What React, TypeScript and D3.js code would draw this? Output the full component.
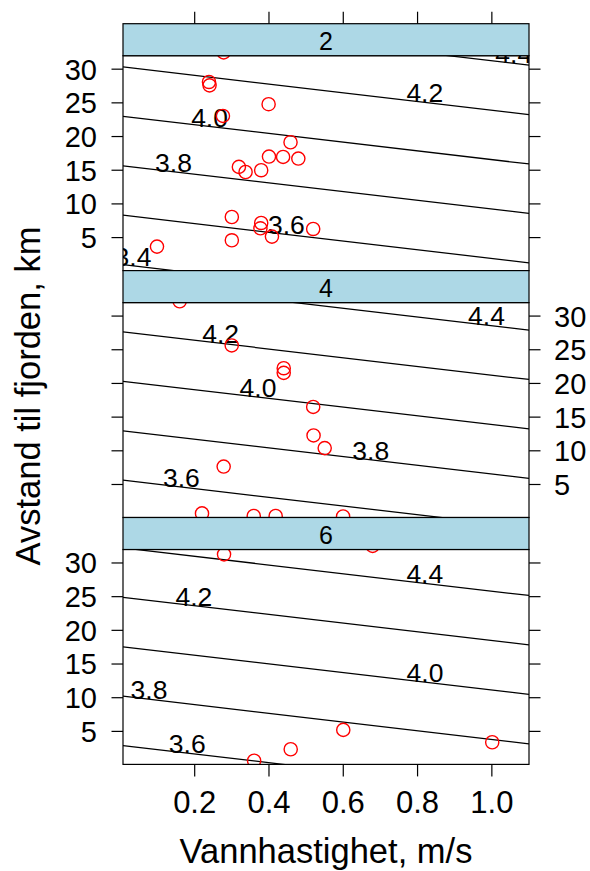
import React from "react";
import * as d3 from "d3";

// ---- data ----
const panelNames = ["2", "4", "6"];
const panelIntercepts = [3.372, 3.445, 3.52];
const slopeSpeed = 0.1762;
const slopeDistance = 0.02726;
const contourLevels = [3.4, 3.6, 3.8, 4.0, 4.2, 4.4];
const contourLabelNames = ["3.4", "3.6", "3.8", "4.0", "4.2", "4.4"];
// x-position (speed) of each contour label, per panel (null = no label)
const labelSpeed: (number | null)[][] = [
  [0.034, 0.447, 0.143, 0.24, 0.8195, 1.059],
  [null, 0.164, 0.674, 0.3705, 0.27, 0.9857],
  [null, 0.18, 0.077, 0.82, 0.198, 0.8195],
];

const speed2 = [0.278, 0.2385, 0.24, 0.399, 0.276, 0.458, 0.4, 0.438, 0.479, 0.319, 0.337, 0.379, 0.3, 0.379, 0.377, 0.408, 0.519, 0.3, 0.0985];
const dist2 = [32.5, 28.1, 27.6, 24.8, 23.06, 19.15, 17.03, 16.97, 16.73, 15.49, 14.74, 15.0, 8.06, 7.17, 6.38, 5.15, 6.28, 4.6, 3.66];
const speed4 = [0.1596, 0.2997, 0.4397, 0.4397, 0.519, 0.52, 0.55, 0.278, 0.2197, 0.359, 0.418, 0.5995];
const dist4 = [32.19, 25.64, 22.26, 21.57, 16.51, 12.28, 10.4, 7.66, 0.71, 0.32, 0.32, 0.25];
const speed6 = [0.279, 0.679, 0.6, 1.001, 0.4585, 0.36];
const dist6 = [31.28, 32.53, 5.22, 3.39, 2.35, 0.65];

const panelSpeeds = [speed2, speed4, speed6];
const panelDists = [dist2, dist4, dist6];

const xTicks = [0.2, 0.4, 0.6, 0.8, 1.0];
const yTicks = [5, 10, 15, 20, 25, 30];
const xDomain = [0.007, 1.1];
const yDomain = [0.1, 32.0];

const xTitle = "Vannhastighet, m/s";
const yTitle = "Avstand til fjorden, km";

const FONT = "'Liberation Sans', Arial, Helvetica, sans-serif";

export default function App() {
  const W = 590;
  const H = 871;
  const left = 123;
  const right = 529;
  const top = 23.7;
  const stripH = 32;
  const block = 246.9;
  const dataH = block - stripH;
  const tickLen = 11.5;

  const x = d3.scaleLinear().domain(xDomain).range([left, right]);
  const line = d3.line<[number, number]>();

  const panels = panelNames.map((name, i) => {
    const stripTop = top + i * block;
    const dataTop = stripTop + stripH;
    const dataBottom = dataTop + dataH;
    const y = d3.scaleLinear().domain(yDomain).range([dataBottom, dataTop]);
    const a = panelIntercepts[i];
    const distAt = (lvl: number, s: number) => (lvl - a - slopeSpeed * s) / slopeDistance;
    const clipId = `clip-${i}`;
    const labelsLeft = i !== 1;
    return (
      <g key={name}>
        <defs>
          <clipPath id={clipId}>
            <rect x={left} y={dataTop} width={right - left} height={dataH} />
          </clipPath>
        </defs>
        <g clipPath={`url(#${clipId})`}>
          {contourLevels.map((lvl, k) => {
            const pts: [number, number][] = xDomain.map((s) => [x(s), y(distAt(lvl, s))] as [number, number]);
            return <path key={k} d={line(pts) || ""} stroke="#000" strokeWidth={1.25} fill="none" />;
          })}
          {contourLevels.map((lvl, k) => {
            const s = labelSpeed[i][k];
            if (s === null) return null;
            return (
              <text key={"l" + k} x={x(s)} y={y(distAt(lvl, s))} textAnchor="middle" fontSize={26.5} fontFamily={FONT} fill="#000">
                {contourLabelNames[k]}
              </text>
            );
          })}
          {panelSpeeds[i].map((s, k) => (
            <circle key={"p" + k} cx={x(s)} cy={y(panelDists[i][k])} r={6.6} fill="none" stroke="#ff0000" strokeWidth={1.4} />
          ))}
        </g>
        <rect x={left} y={dataTop} width={right - left} height={dataH} fill="none" stroke="#000" strokeWidth={1.2} />
        <rect x={left} y={stripTop} width={right - left} height={stripH} fill="#add8e6" stroke="#000" strokeWidth={1.2} />
        <text x={(left + right) / 2} y={stripTop + 26.5} textAnchor="middle" fontSize={25} fontFamily={FONT} fill="#000">
          {name}
        </text>
        {yTicks.map((t) => (
          <g key={"yt" + t}>
            <line x1={left - tickLen} x2={left} y1={y(t)} y2={y(t)} stroke="#000" strokeWidth={1.2} />
            <line x1={right} x2={right + tickLen} y1={y(t)} y2={y(t)} stroke="#000" strokeWidth={1.2} />
            {labelsLeft ? (
              <text x={97} y={y(t)} dy="0.36em" textAnchor="end" fontSize={29} fontFamily={FONT} fill="#000">
                {t}
              </text>
            ) : (
              <text x={554} y={y(t)} dy="0.36em" textAnchor="start" fontSize={29} fontFamily={FONT} fill="#000">
                {t}
              </text>
            )}
          </g>
        ))}
      </g>
    );
  });

  const bottom = top + 3 * block;

  return (
    <svg width={W} height={H} style={{ position: "absolute", left: 0, top: 0, background: "#fff" }}>
      <rect x={0} y={0} width={W} height={H} fill="#fff" />
      {panels}
      {xTicks.map((t) => (
        <g key={"xt" + t}>
          <line x1={x(t)} x2={x(t)} y1={top - 12} y2={top} stroke="#000" strokeWidth={1.2} />
          <line x1={x(t)} x2={x(t)} y1={bottom} y2={bottom + 12} stroke="#000" strokeWidth={1.2} />
          <text x={x(t)} y={813.3} textAnchor="middle" fontSize={31} fontFamily={FONT} fill="#000">
            {d3.format(".1f")(t)}
          </text>
        </g>
      ))}
      <text x={(left + right) / 2} y={863} textAnchor="middle" fontSize={34.5} fontFamily={FONT} fill="#000">
        {xTitle}
      </text>
      <text transform={`translate(40, 396) rotate(-90)`} textAnchor="middle" fontSize={34.5} fontFamily={FONT} fill="#000">
        {yTitle}
      </text>
    </svg>
  );
}
